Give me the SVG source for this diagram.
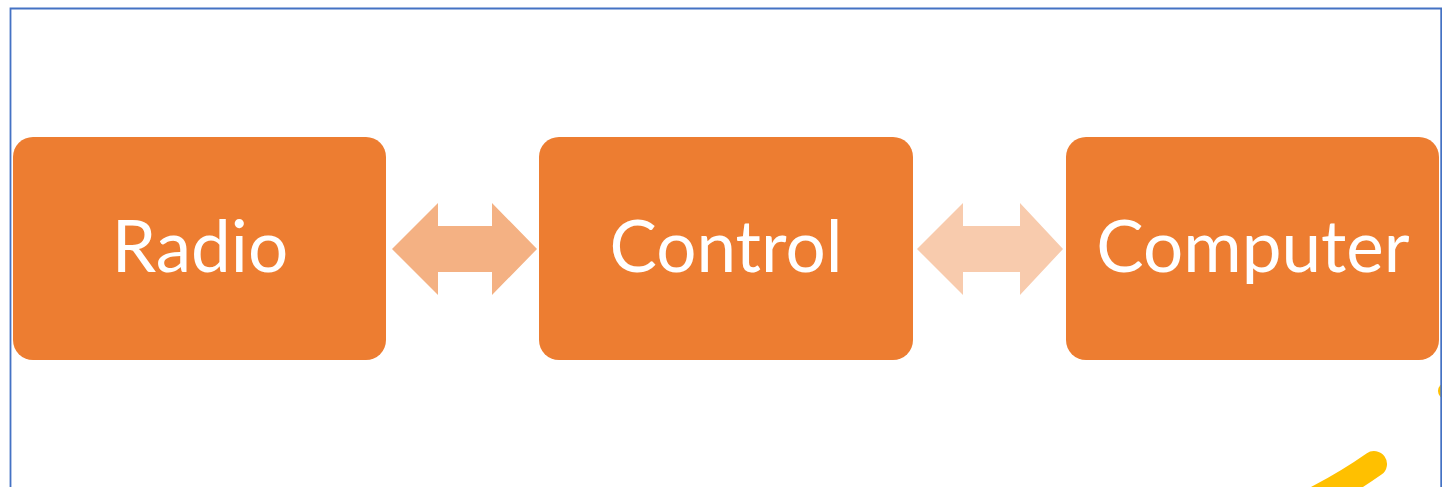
<svg xmlns="http://www.w3.org/2000/svg" width="1442" height="487" viewBox="0 0 1442 487">
<style>
.box{fill:#ED7D31;}
.lbl{fill:#FFFFFF;font-family:Lato,"Open Sans","Liberation Sans",sans-serif;font-size:71px;text-anchor:middle;}
</style>
<rect x="0" y="0" width="1442" height="487" fill="#FFFFFF"/>
<circle cx="1446" cy="391" r="8" fill="#FFC000"/>
<path d="M10.5 487 V8.5 H1441.2 V487" fill="none" stroke="#4472C4" stroke-width="1.8"/>
<g id="connectors">
<polygon points="392,249 438,203 438,226 492,226 492,203 537,249 492,295 492,272 438,272 438,295" fill="#F4B183"/>
<polygon points="917,249 963,203 963,226 1020,226 1020,203 1063,249 1020,295 1020,272 963,272 963,295" fill="#F8CBAD"/>
</g>
<g id="radio">
<rect class="box" x="13" y="137" width="373" height="223" rx="20"/>
<text class="lbl" x="200" y="272">Radio</text>
</g>
<g id="control">
<rect class="box" x="539" y="137" width="374" height="223" rx="20"/>
<text class="lbl" x="726" y="272">Control</text>
</g>
<g id="computer">
<rect class="box" x="1066" y="137" width="373" height="223" rx="20"/>
<text class="lbl" x="1253" y="272">Computer</text>
</g>
<path d="M1374 464 Q1350 481 1318 498" fill="none" stroke="#FFC000" stroke-width="26" stroke-linecap="round"/>
</svg>
